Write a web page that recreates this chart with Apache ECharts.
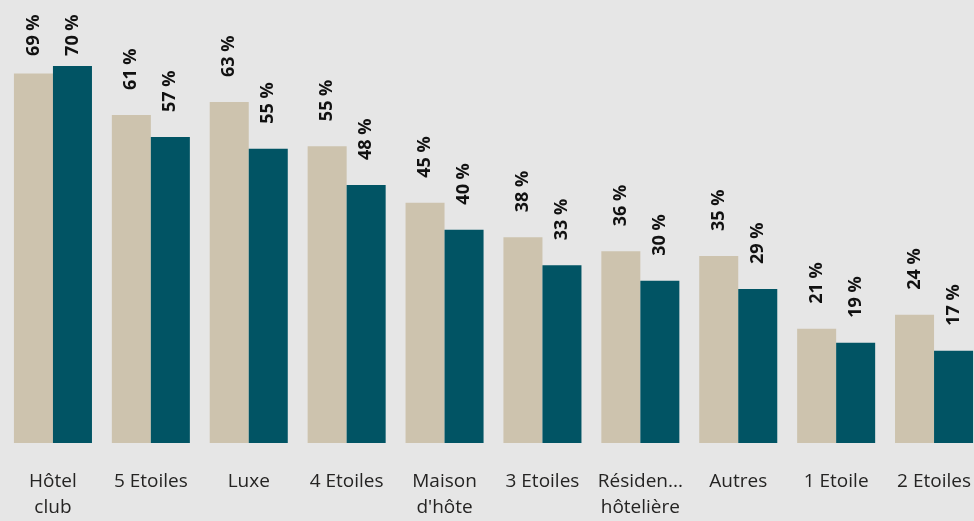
<!DOCTYPE html>
<html><head><meta charset="utf-8">
<script src="https://cdn.jsdelivr.net/npm/echarts@6/dist/echarts.min.js"></script>
<style>html,body{margin:0;padding:0;background:#e6e6e6;}#c{width:974px;height:521px;}</style>
</head><body><div id="c"></div>
<script>
const categories = ['Hôtel\nclub','5 Etoiles','Luxe','4 Etoiles','Maison\nd\'hôte','3 Etoiles','Résiden...\nhôtelière','Autres','1 Etoile','2 Etoiles'];
const seriesA = [68.6, 60.9, 63.3, 55.1, 44.6, 38.2, 35.6, 34.7, 21.2, 23.8];
const seriesB = [70.0, 56.8, 54.6, 47.9, 39.6, 33.0, 30.1, 28.6, 18.6, 17.1];
const colorA = '#cdc3ae', colorB = '#015464';
const chart = echarts.init(document.getElementById('c'));
const lbl = {
  show: true, position: 'top', rotate: 90, align: 'left', verticalAlign: 'middle', distance: 25,
  fontFamily: 'Open Sans', fontWeight: 'bold', fontSize: 18, color: '#111',
  formatter: p => Math.round(p.value) + ' %'
};
// labels that would overflow the top are pushed down, as in the reference
function items(vals) {
  return vals.map(v => {
    const room = 443 - v * 5.386 - 56;
    return room < 25 ? { value: v, label: { distance: Math.max(2, room) } } : v;
  });
}
chart.setOption({
  backgroundColor: '#e6e6e6',
  animation: false,
  grid: { left: 4, width: 979, top: 12, bottom: 78, containLabel: false, outerBoundsMode: 'none' },
  xAxis: {
    type: 'category', data: categories,
    axisLine: { show: false }, axisTick: { show: false },
    axisLabel: { interval: 0, margin: 26, fontFamily: 'Open Sans', fontSize: 19, color: '#252423', lineHeight: 26 }
  },
  yAxis: { type: 'value', min: 0, max: 80, show: false, splitLine: { show: false } },
  series: [
    { type: 'bar', data: items(seriesA), itemStyle: { color: colorA }, barGap: '0%', barCategoryGap: '20.3%', label: lbl },
    { type: 'bar', data: items(seriesB), itemStyle: { color: colorB }, barGap: '0%', barCategoryGap: '20.3%', label: lbl }
  ]
});
</script></body></html>
